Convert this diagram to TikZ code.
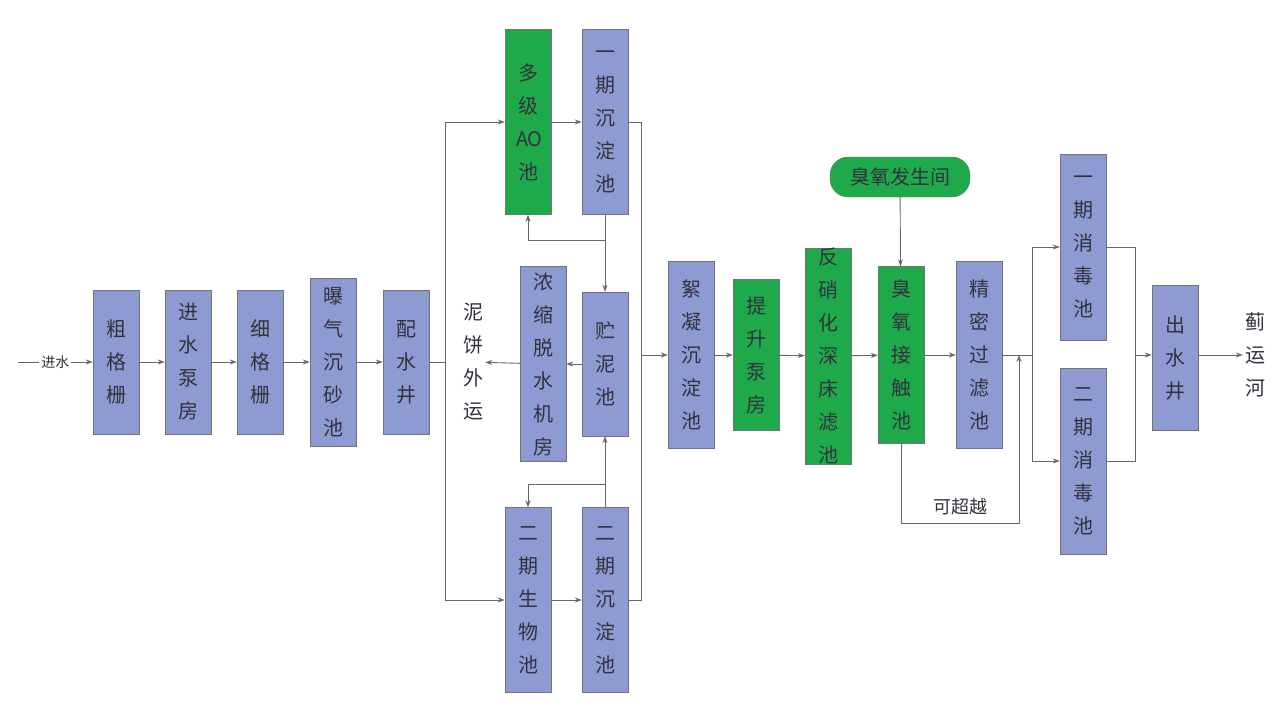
\documentclass[tikz,border=0pt]{standalone}
\usepackage{fontspec}
\setmainfont{Noto Sans CJK SC}
\usetikzlibrary{arrows.meta,positioning}
\definecolor{boxblue}{RGB}{142,155,211}
\definecolor{boxgreen}{RGB}{30,170,75}
\definecolor{txtgray}{RGB}{50,50,60}
\tikzset{
  unit/.style={draw=black!55, fill=boxblue, minimum width=46pt, text width=24pt, align=center,
    inner sep=0pt, font=\fontsize{20}{33}\selectfont, text=txtgray},
  gunit/.style={unit, fill=boxgreen},
  lbl/.style={text width=24pt, align=center, inner sep=0pt, font=\fontsize{20}{33}\selectfont, text=txtgray},
  line/.style={draw=black!60, line width=0.9pt},
  arrow/.style={line, -{Stealth[length=7pt,width=5pt]}},
}
\begin{document}
\begin{tikzpicture}[x=1pt,y=-1pt]
  \useasboundingbox (0,0) rectangle (1280,709);
  % pretreatment
  \node (Screen) [unit, minimum height=144pt] at (116,362) {粗\\格\\栅};
  \node (Pump) [unit, minimum height=144pt] at (188,362) {进\\水\\泵\\房};
  \node (Fine) [unit, minimum height=144pt] at (260,362) {细\\格\\栅};
  \node (Grit) [unit, minimum height=168pt] at (333,362) {曝\\气\\沉\\砂\\池};
  \node (Well) [unit, minimum height=144pt] at (406,362) {配\\水\\井};
  % biology
  \node (AO) [gunit, minimum height=185pt] at (528,122) {多\\级\\AO\\池};
  \node (SetA) [unit, minimum height=185pt] at (605,122) {一\\期\\沉\\淀\\池};
  \node (Dewater) [unit, minimum height=195pt] at (543,364) {浓\\缩\\脱\\水\\机\\房};
  \node (Sludge) [unit, minimum height=144pt] at (605,364) {贮\\泥\\池};
  \node (Bio) [unit, minimum height=185pt] at (528,600) {二\\期\\生\\物\\池};
  \node (SetB) [unit, minimum height=185pt] at (605,600) {二\\期\\沉\\淀\\池};
  \node (Cake) [lbl] at (473,362) {泥\\饼\\外\\运};
  % advanced treatment
  \node (Floc) [unit, minimum height=187pt] at (691,355) {絮\\凝\\沉\\淀\\池};
  \node (Lift) [gunit, minimum height=151pt] at (756,355) {提\\升\\泵\\房};
  \node (Denit) [gunit, minimum height=216pt] at (828,356) {反\\硝\\化\\深\\床\\滤\\池};
  \node (Ozone) [draw=black!55, fill=boxgreen, rounded corners=18pt, minimum width=140pt, minimum height=40pt,
    font=\fontsize{20}{24}\selectfont, text=txtgray] at (900,177) {臭氧发生间};
  \node (Contact) [gunit, minimum height=177pt] at (901,355) {臭\\氧\\接\\触\\池};
  \node (Filter) [unit, minimum height=187pt] at (979,355) {精\\密\\过\\滤\\池};
  \node (DisA) [unit, minimum height=186pt] at (1083,247) {一\\期\\消\\毒\\池};
  \node (DisB) [unit, minimum height=186pt] at (1083,461) {二\\期\\消\\毒\\池};
  \node (Out) [unit, minimum height=145pt] at (1175,358) {出\\水\\井};
  \node (River) [lbl] at (1255,355) {蓟\\运\\河};
  \coordinate (Inlet) at (18,362);
  \coordinate (Split) at (445,362);
  \coordinate (Merge) at (641,355);
  \coordinate (Join) at (1032,355);
  \coordinate (Collect) at (1135,355);
  % main line
  \draw [arrow] (Inlet) -- node[fill=white, inner sep=2pt, font=\fontsize{14}{16}\selectfont, text=txtgray]{进水} (Screen);
  \draw [arrow] (Screen) -- (Pump);
  \draw [arrow] (Pump) -- (Fine);
  \draw [arrow] (Fine) -- (Grit);
  \draw [arrow] (Grit) -- (Well);
  \draw [line] (Well) -- (Split);
  \draw [arrow] (Split) |- (AO);
  \draw [arrow] (Split) |- (Bio);
  \draw [arrow] (AO) -- (SetA);
  \draw [arrow] (Bio) -- (SetB);
  \draw [line] (SetA.east) -| (Merge);
  \draw [line] (SetB.east) -| (Merge);
  \draw [arrow] (Merge) -- (Floc);
  % sludge
  \draw [arrow] (SetA) -- (Sludge);
  \draw [arrow] (SetA.south |- 0,240) -| (AO.south);
  \draw [arrow] (SetB) -- (Sludge);
  \draw [arrow] (SetB.north |- 0,484) -| (Bio.north);
  \draw [arrow] (Sludge) -- (Dewater);
  \draw [arrow] (Dewater) -- (Cake);
  % advanced
  \draw [arrow] (Floc) -- (Lift);
  \draw [arrow] (Lift) -- (Denit);
  \draw [arrow] (Denit) -- (Contact);
  \draw [arrow] (Ozone) -- (Contact);
  \draw [arrow] (Contact) -- (Filter);
  \draw [line] (Filter) -- (Join);
  \draw [arrow] (Contact.south) |- (1019,523) node[pos=0.75, above=4pt, font=\fontsize{18}{20}\selectfont, text=txtgray]{可超越} -- (1019,355);
  \draw [arrow] (Join) |- (DisA);
  \draw [arrow] (Join) |- (DisB);
  \draw [line] (DisA.east) -| (Collect);
  \draw [line] (DisB.east) -| (Collect);
  \draw [arrow] (Collect) -- (Out.west |- Collect);
  \draw [arrow] (Out.east |- Collect) -- (River);
\end{tikzpicture}
\end{document}
